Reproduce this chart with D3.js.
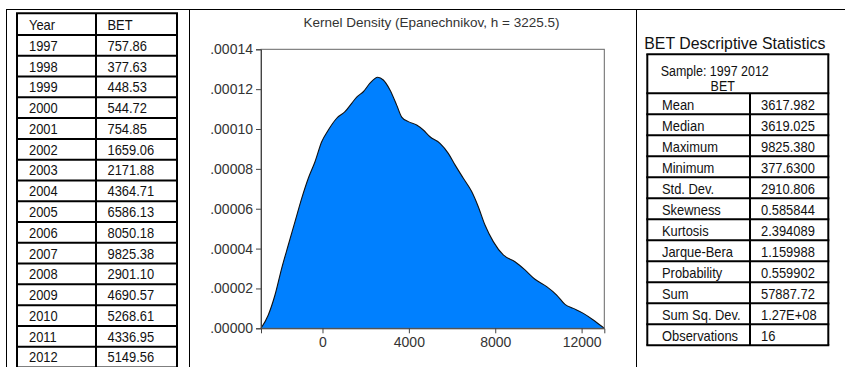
<!DOCTYPE html>
<html>
<head>
<meta charset="utf-8">
<script src="https://cdn.jsdelivr.net/npm/d3@7"></script>
<style>
  body { margin: 0; background: #fff; }
  .narrow text { font-family: "Liberation Sans", Arial, sans-serif; fill: #111; }
  .chart text { font-family: "Liberation Sans", Arial, sans-serif; fill: #333; }
</style>
</head>
<body>
<svg id="fig" width="845" height="367"></svg>
<script>
// Left table: yearly BET values
const years = [1997, 1998, 1999, 2000, 2001, 2002, 2003, 2004, 2005, 2006, 2007, 2008, 2009, 2010, 2011, 2012]
const betValues = ["757.86", "377.63", "448.53", "544.72", "754.85", "1659.06", "2171.88", "4364.71",
  "6586.13", "8050.18", "9825.38", "2901.10", "4690.57", "5268.61", "4336.95", "5149.56"]

// Right table: descriptive statistics
const statLabels = ["Mean", "Median", "Maximum", "Minimum", "Std. Dev.", "Skewness", "Kurtosis",
  "Jarque-Bera", "Probability", "Sum", "Sum Sq. Dev.", "Observations"]
const statValues = ["3617.982", "3619.025", "9825.380", "377.6300", "2910.806", "0.585844", "2.394089",
  "1.159988", "0.559902", "57887.72", "1.27E+08", "16"]

// Kernel density curve
const densityX = [-2848, -2510, -2200, -1890, -1584, -1273, -963, -657, -347, -37, 270, 658, 1042, 1352,
  1584, 1890, 2200, 2556, 2816, 3126, 3436, 3668, 3974, 4362, 4668, 4978, 5441, 5826, 6137, 6522, 6909,
  7215, 7525, 7910, 8373, 8915, 9378, 9841, 10383, 10846, 11231, 11617, 12080, 12543, 13051]
const densityY = [0, 0.67, 1.67, 3.01, 4.18, 5.35, 6.52, 7.53, 8.36, 9.36, 9.95, 10.54, 10.87, 11.29,
  11.6, 11.87, 12.3, 12.6, 12.46, 11.96, 11.2, 10.6, 10.37, 10.2, 9.95, 9.61, 9.28, 8.78, 8.2, 7.53, 6.86,
  6.1, 5.18, 4.35, 3.68, 3.34, 2.93, 2.46, 2.09, 1.67, 1.2, 1.0, 0.75, 0.42, 0].map(v => v * 1e-5)

const yTicks = [0, 0.00002, 0.00004, 0.00006, 0.00008, 0.00010, 0.00012, 0.00014]
const xTicks = [0, 4000, 8000, 12000]

var svg = d3.select("#fig")

// squeeze text horizontally, no narrow font is installed
function squeeze(sel, k) {
  sel.each(function() {
    var w = this.getComputedTextLength()
    d3.select(this).attr("textLength", w * k).attr("lengthAdjust", "spacingAndGlyphs")
  })
}

// outer frame of the page layout
var frame = svg.append("g").attr("stroke", "#000").attr("stroke-width", 1)
frame.append("line").attr("x1", 6).attr("x2", 845).attr("y1", 9.5).attr("y2", 9.5)
frame.append("line").attr("x1", 6.5).attr("x2", 6.5).attr("y1", 9).attr("y2", 367)
frame.append("line").attr("x1", 189.5).attr("x2", 189.5).attr("y1", 9).attr("y2", 367)
frame.append("line").attr("x1", 636.5).attr("x2", 636.5).attr("y1", 9).attr("y2", 367)

// ---- left table ----
const rowH = 20.78
var left = svg.append("g").attr("class", "narrow")
var tableRows = [["Year", "BET"]].concat(years.map((y, i) => [String(y), betValues[i]]))
var rowBottom = function(i) { return 35 + i * rowH }

left.selectAll("line.h")
  .data(d3.range(tableRows.length + 1))
  .enter().append("line")
  .attr("x1", 16).attr("x2", 178)
  .attr("y1", i => i == 0 ? 13.3 : rowBottom(i - 1))
  .attr("y2", i => i == 0 ? 13.3 : rowBottom(i - 1))
  .attr("stroke", "#000").attr("stroke-width", 2)
left.selectAll("line.v")
  .data([17, 96, 177])
  .enter().append("line")
  .attr("x1", d => d).attr("x2", d => d)
  .attr("y1", 13.3).attr("y2", 380)
  .attr("stroke", "#000").attr("stroke-width", 2)

var cells = left.selectAll("g.row")
  .data(tableRows)
  .enter().append("g")
cells.append("text")
  .attr("x", 29).attr("y", (d, i) => rowBottom(i) - 5)
  .attr("font-size", 15)
  .text(d => d[0])
  .call(squeeze, 0.86)
cells.append("text")
  .attr("x", 107.5).attr("y", (d, i) => rowBottom(i) - 5)
  .attr("font-size", 15)
  .text(d => d[1])
  .call(squeeze, 0.86)

// ---- kernel density chart ----
var chart = svg.append("g").attr("class", "chart")
var x = d3.scaleLinear().domain([-2847.87, 13050.88]).range([261, 604.3])
var y = d3.scaleLinear().domain([0, 0.00014]).range([328.3, 49.3])
var pts = densityX.map((d, i) => [d, densityY[i]])

chart.append("path")
  .datum(pts)
  .attr("fill", "#0080ff")
  .attr("d", d3.area().x(d => x(d[0])).y0(y(0)).y1(d => y(d[1])).curve(d3.curveMonotoneX))
chart.append("path")
  .datum(pts)
  .attr("fill", "none")
  .attr("stroke", "#111")
  .attr("stroke-width", 1.1)
  .attr("d", d3.line().x(d => x(d[0])).y(d => y(d[1])).curve(d3.curveMonotoneX))

chart.append("rect")
  .attr("x", 261).attr("y", 49.3)
  .attr("width", 604.3 - 261).attr("height", 328.3 - 49.3)
  .attr("fill", "none").attr("stroke", "#666").attr("stroke-width", 1)

chart.append("g")
  .attr("transform", "translate(261,0)")
  .call(d3.axisLeft(y).tickValues(yTicks).tickSizeOuter(0).tickSize(5).tickPadding(3)
    .tickFormat(d => d3.format(".5f")(d).replace(/^0/, "")))
chart.append("g")
  .attr("transform", "translate(0,328.3)")
  .call(d3.axisBottom(x).tickValues(xTicks).tickSizeOuter(0).tickSize(5).tickPadding(4)
    .tickFormat(d3.format("d")))
chart.selectAll(".domain").attr("stroke", "#444")
chart.selectAll(".tick line").attr("stroke", "#444")
chart.selectAll(".tick text").attr("font-size", 14)

chart.append("text")
  .attr("x", 431.5).attr("y", 27)
  .attr("text-anchor", "middle")
  .attr("font-size", 13.5)
  .text("Kernel Density (Epanechnikov, h = 3225.5)")

// ---- descriptive statistics table ----
var stats = svg.append("g").attr("class", "narrow")
stats.append("text")
  .attr("x", 644.3).attr("y", 48.5)
  .attr("font-size", 17)
  .attr("textLength", 181).attr("lengthAdjust", "spacingAndGlyphs")
  .text("BET Descriptive Statistics")

const sTop = 54.3, sHead = 93.3, sRowH = 21
stats.selectAll("line.h")
  .data(d3.range(statLabels.length + 2))
  .enter().append("line")
  .attr("x1", 646.3).attr("x2", 829.3)
  .attr("y1", i => i == 0 ? sTop : sHead + (i - 1) * sRowH)
  .attr("y2", i => i == 0 ? sTop : sHead + (i - 1) * sRowH)
  .attr("stroke", "#000").attr("stroke-width", 2)
stats.selectAll("line.v")
  .data([[647.3, sTop], [750, sHead], [828.3, sTop]])
  .enter().append("line")
  .attr("x1", d => d[0]).attr("x2", d => d[0])
  .attr("y1", d => d[1]).attr("y2", sHead + statLabels.length * sRowH)
  .attr("stroke", "#000").attr("stroke-width", 2)

stats.append("text").attr("x", 660.7).attr("y", 75.5).attr("font-size", 14)
  .text("Sample: 1997 2012").call(squeeze, 0.89)
stats.append("text").attr("x", 722.7).attr("y", 90.5).attr("font-size", 14)
  .attr("text-anchor", "middle").text("BET").call(squeeze, 0.89)

var srows = stats.selectAll("g.srow")
  .data(statLabels)
  .enter().append("g")
srows.append("text")
  .attr("x", 662).attr("y", (d, i) => sHead + (i + 1) * sRowH - 4)
  .attr("font-size", 15)
  .text(d => d)
  .call(squeeze, 0.86)
srows.append("text")
  .attr("x", 761).attr("y", (d, i) => sHead + (i + 1) * sRowH - 4)
  .attr("font-size", 15)
  .text((d, i) => statValues[i])
  .call(squeeze, 0.86)
</script>
</body>
</html>
